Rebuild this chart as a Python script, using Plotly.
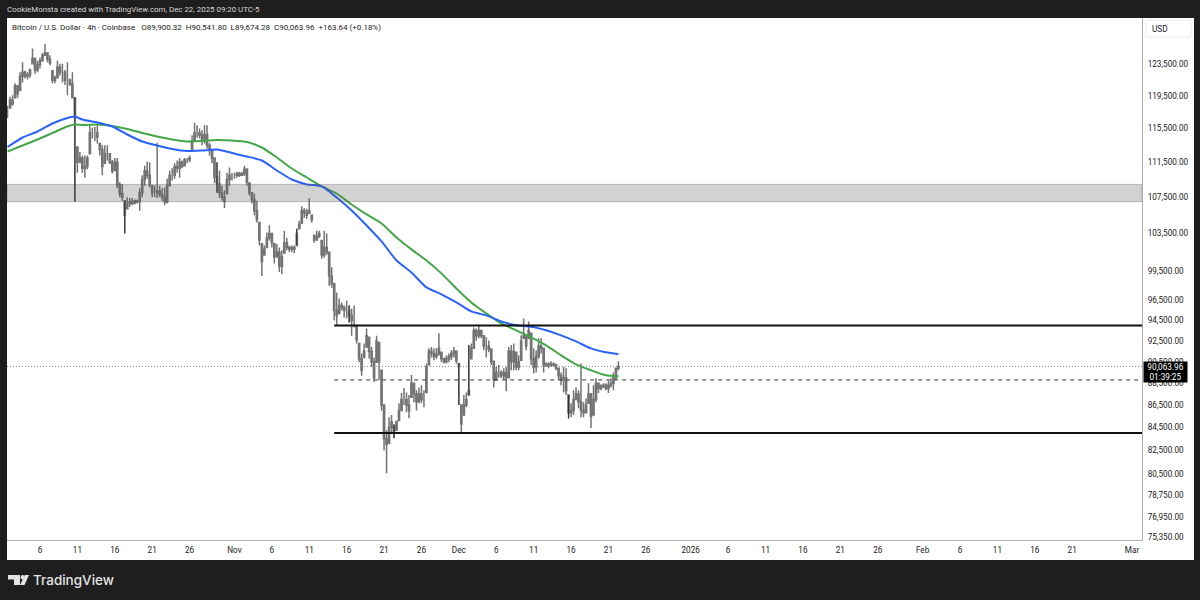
import numpy as np
import pandas as pd
import plotly.graph_objects as go

# 8-hour BTC/USD bars from Oct 1 16:00 through Dec 22 08:00
highs = [118300,119400,119600,121100,120800,122500,123800,122700,122500,123000,125600,124400,124000,
 124400,125000,126200,125000,124700,122700,122100,124000,123600,123600,122800,123800,121700,122500,
 119300,113300,112700,112300,112300,112300,115900,115600,115700,115900,113700,113500,113500,
 113500,112600,111800,112000,112000,109200,109000,107100,107500,107400,107400,107250,107250,108500,
 110000,111100,111600,111500,108800,108800,113800,108800,108500,108600,109600,110550,110800,111400,
 111700,112000,111700,112000,112000,112300,114700,116200,115900,115500,115300,115900,115900,113800,
 113100,112100,111500,110550,108800,108300,110300,110900,110300,110300,110400,110400,110400,111100,
 110800,109100,108000,107900,107100,104700,102400,102200,103600,104400,103500,102400,102400,102000,
 101700,103800,103000,102200,102200,102200,104000,104900,106500,106300,106200,107400,105500,103300,
 103800,103800,102750,103800,103500,101500,99900,98300,97300,96700,96300,96000,96500,96000,95700,
 96000,94000,92250,91300,92250,93700,92850,91900,90900,93000,92350,89700,86500,84250,85400,85600,
 84700,85100,86650,87600,88050,87650,87400,89250,88500,87850,88100,88300,87850,90350,91800,91900,
 91800,91800,93250,91400,90900,91100,91300,91600,91900,91600,90350,86500,87400,87650,92100,92250,
 93800,93700,94100,93530,93050,92850,92550,91800,90650,90000,90200,89700,89900,90000,91900,92100,
 92250,91400,91100,93050,94700,93050,94400,93250,91800,91600,92750,92750,91800,90450,90450,90550,
 90450,90350,89900,89500,90000,89900,87400,86650,87850,88100,87850,90350,86750,87100,88500,87600,
 88300,88950,88500,88400,88500,88500,88750,88950,89500,89900,90541.80]
lows = [116800,118000,118300,119300,119300,120200,121200,121700,121600,121800,123600,122300,122500,
 123000,123900,124700,123800,123400,121100,121100,121800,122100,121200,120900,119600,120800,119300,
 107000,110300,111400,110300,109700,110700,112500,114300,114000,113700,112300,110000,111400,
 111700,111300,110200,110550,108500,107500,107100,103500,106200,106400,106600,106700,106800,106000,
 107500,108800,109600,108600,107500,107500,107400,107500,107100,106600,106800,108800,109400,109600,
 110300,109700,110800,111100,111400,111500,112900,114100,114400,114300,113500,113700,113100,112300,
 111400,109100,108000,107400,107100,106300,107900,108800,109400,109600,109700,109800,109900,109900,
 108800,107700,106800,105500,104700,102200,99000,101200,102000,102750,102000,100300,100900,99400,
 99200,101400,101700,101500,101500,101400,102200,104000,104600,105200,105100,105700,104700,102500,
 102750,103000,100800,100900,101200,98000,97800,94500,94000,95200,95500,94800,94700,94300,93000,
 93800,92250,90450,89200,90900,91900,90800,90000,88600,90450,88800,86000,82500,80550,83100,84000,
 83550,84250,85100,86000,86500,85850,85300,87200,86750,86000,86650,86650,86300,87650,90200,90900,
 90650,90800,91100,90450,90350,90350,90450,90650,90900,90350,86500,84000,85600,86300,87400,90800,
 91800,92550,92750,92750,91600,90900,91400,90200,88100,88800,89000,88950,88800,87750,89000,89700,
 89700,89700,89700,90650,92750,91600,92750,90200,89400,89500,90800,91300,89500,90000,89900,90000,
 90000,89700,88800,88300,87650,87400,85300,85400,85600,86950,86200,85400,85400,85750,86650,84450,
 85600,86750,87600,87850,88050,87850,87600,88100,87850,88800,89674.28]
closes = [118000,119000,118500,120800,119800,122000,122500,122000,122200,122800,124300,122800,123500,
 124000,124700,125000,124200,123700,121500,121800,123200,122500,122500,121500,121500,121000,119300,
 116800,111500,112000,110800,111000,112000,115000,115000,115000,114500,113000,111000,112500,
 112500,111500,110500,111500,108900,107900,107500,105500,106800,107000,106800,107100,107000,108000,
 109500,110500,110000,108900,108000,108000,108200,107800,107500,107000,108800,110000,110000,111000,
 110800,111500,111000,111800,111800,112000,114000,115000,115000,114700,114000,114800,113500,113000,
 112000,109800,109000,108000,107500,107000,109500,110000,110000,110000,110200,110000,110200,110700,
 109200,108000,107200,106000,105000,102800,100500,101800,103000,103500,102500,101000,101500,100000,
 101000,102500,102000,101800,102000,101800,103500,104500,106000,105800,105500,106000,105000,102800,
 103200,103500,101200,102000,101500,99000,98200,95500,95000,96000,95800,95500,95500,95000,94500,
 94500,92600,90800,89700,91500,93000,91500,90500,89000,92500,90500,86500,83500,83000,84500,85000,
 84000,85000,86000,87000,87000,86500,86000,88500,87500,86800,87500,87000,87000,90000,91500,91300,
 91000,91200,91800,90800,90500,90800,91000,91300,91500,90600,90200,84800,86500,87000,87800,91800,
 93500,93000,93500,93000,92000,92000,91700,90500,88800,89500,89500,89200,89500,89000,91500,90500,
 91500,90000,90500,92500,93000,92000,93500,90800,90000,91000,92000,91800,90200,90300,90200,90300,
 90200,89900,89200,88800,89000,87800,85800,86000,87000,87500,86800,86000,85800,86500,87500,85500,
 87000,88500,88000,88200,88300,88000,88300,88500,89000,89900.32,90063.96]

# Bars picked out in a darker tone
dark_bars = [27, 47, 84, 116, 137, 155, 181, 185, 225]

# Moving averages sampled at every sixth bar, plus the Oct 10 turn and the last bar
ma_bars = [0,6,12,18,24,27,30,36,42,48,54,60,66,72,78,84,90,96,102,108,114,120,126,132,138,144,150,
 156,162,168,174,180,186,192,198,204,210,216,222,228,234,240,245]
ma_fast = [113300,114430,115150,116120,116780,116960,116600,116240,115750,114790,113950,113470,113060,
 112820,112880,113000,112590,112180,111710,110550,109510,108950,108720,107470,106020,104370,102640,
 100620,99370,97820,97120,96300,95400,95000,94410,94020,93880,93530,93040,92450,91780,91400,91210]
ma_slow = [112770,113470,114190,114970,115750,115990,115930,115990,115810,115450,114970,114550,114190,
 113950,114010,114130,114070,113890,113240,112060,110780,109740,108720,107920,106680,105580,104590,
 103070,101790,100620,99270,97720,96300,95200,94210,93530,92850,92070,91110,90260,89700,89230,89140]

# Horizontal levels drawn on the chart
zone_low, zone_high = 107000, 108950
range_high, range_low, range_mid = 94000, 84000, 88800
last_price = 90063.96
level_start = "2025-11-14 08:00"

# Axis ticks
price_ticks = [123500,119500,115500,111500,107500,103500,99500,96500,94500,92500,90500,88500,86500,
 84500,82500,80500,78750,76950,75350]
time_ticks = ["2025-10-06","2025-10-11","2025-10-16","2025-10-21","2025-10-26","2025-11-01","2025-11-06",
 "2025-11-11","2025-11-16","2025-11-21","2025-11-26","2025-12-01","2025-12-06","2025-12-11","2025-12-16",
 "2025-12-21","2025-12-26","2026-01-01","2026-01-06","2026-01-11","2026-01-16","2026-01-21","2026-01-26",
 "2026-02-01","2026-02-06","2026-02-11","2026-02-16","2026-02-21","2026-03-01"]
time_labels = ["6","11","16","21","26","Nov","6","11","16","21","26","Dec","6","11","16","21","26","2026",
 "6","11","16","21","26","Feb","6","11","16","21","Mar"]

view_start, view_end = "2025-10-01 14:10", "2026-03-02 08:00"
bar_times = pd.date_range("2025-10-01 16:00", periods=len(highs), freq="8h")

# Each bar opens at the previous close, held inside its own high-low span
prev_close = np.r_[closes[0], closes[:-1]]
opens = np.clip(prev_close, lows, highs)

GREY = "#737373"
DARK = "#2c2c2c"
FONT = "Roboto"
W, H = 1200, 600
L, R, T, B = 7, 1142, 18, 540


def fx(px):
    return (px - L) / (R - L)


def fy(px):
    return (B - px) / (B - T)


fig = go.Figure()
fig.add_trace(go.Candlestick(
    x=bar_times, open=opens, high=highs, low=lows, close=closes,
    increasing=dict(line=dict(color=GREY, width=1.5), fillcolor=GREY),
    decreasing=dict(line=dict(color=GREY, width=1.5), fillcolor=GREY),
    whiskerwidth=0, hoverinfo="skip", showlegend=False))

# Dark bars are thin high-low strokes over the candles
dark_x, dark_y = [], []
for i in dark_bars:
    dark_x += [bar_times[i], bar_times[i], None]
    dark_y += [highs[i], lows[i], None]
fig.add_trace(go.Scatter(x=dark_x, y=dark_y, mode="lines", connectgaps=False, hoverinfo="skip",
                         showlegend=False, line=dict(color=DARK, width=1)))

ma_times = bar_times[ma_bars]
fig.add_trace(go.Scatter(x=ma_times, y=ma_slow, mode="lines", hoverinfo="skip", showlegend=False,
                         line=dict(color="#43a748", width=2, shape="spline", smoothing=0.6)))
fig.add_trace(go.Scatter(x=ma_times, y=ma_fast, mode="lines", hoverinfo="skip", showlegend=False,
                         line=dict(color="#2962ff", width=2, shape="spline", smoothing=0.6)))

# Supply zone across the whole view
fig.add_trace(go.Scatter(x=[view_start, view_end, view_end, view_start, view_start],
                         y=[zone_low, zone_low, zone_high, zone_high, zone_low],
                         mode="lines", fill="toself", fillcolor="rgba(90,90,90,0.27)",
                         line=dict(color="rgba(90,90,90,0.35)", width=1),
                         hoverinfo="skip", showlegend=False))

# Range boundaries, mid level and last price
for level, colour, width, dash, start in [
    (range_high, "#111111", 2, "solid", level_start),
    (range_low, "#111111", 2, "solid", level_start),
    (range_mid, "#3a3a3a", 1, "4px,4px", level_start),
    (last_price, "#808080", 1, "1px,2px", view_start),
]:
    fig.add_trace(go.Scatter(x=[start, view_end], y=[level, level], mode="lines",
                             line=dict(color=colour, width=width, dash=dash),
                             hoverinfo="skip", showlegend=False))

shapes = [
    dict(type="rect", xref="paper", yref="paper", x0=fx(R), x1=fx(1194), y0=fy(T), y1=fy(560),
         fillcolor="white", line_width=0, layer="below"),
    dict(type="rect", xref="paper", yref="paper", x0=fx(L), x1=fx(1194), y0=fy(B), y1=fy(560),
         fillcolor="white", line_width=0, layer="below"),
    dict(type="rect", xref="paper", yref="paper", x0=fx(1146), x1=fx(1191), y0=fy(20), y1=fy(37),
         fillcolor="white", line=dict(color="#ececec", width=1), layer="below"),
]


def path(points):
    return "M" + " L".join(f"{fx(a):.5f},{fy(b):.5f}" for a, b in points) + " Z"


# TradingView mark in the footer
LOGO = "#e3e3e3"
shapes += [
    dict(type="path", xref="paper", yref="paper", fillcolor=LOGO, line_width=0,
         path=path([(8, 575), (20, 575), (20, 585), (14, 585), (14, 579.5), (8, 579.5)])),
    dict(type="circle", xref="paper", yref="paper", fillcolor=LOGO, line_width=0,
         x0=fx(20.5), x1=fx(25), y0=fy(575), y1=fy(579.5)),
    dict(type="path", xref="paper", yref="paper", fillcolor=LOGO, line_width=0,
         path=path([(25, 575), (29, 575), (24.5, 585), (20, 585)])),
]

annotations = [
    dict(text="CookieMonsta created with TradingView.com, Dec 22, 2025 09:20 UTC-5", xref="paper", yref="paper",
         x=fx(5), y=fy(9.5), xanchor="left", yanchor="middle", showarrow=False,
         font=dict(family=FONT, size=7.9, color="#d8d8d8")),
    dict(text="Bitcoin / U.S. Dollar · 4h · Coinbase   O89,900.32  H90,541.80  L89,674.28  C90,063.96  +163.64 (+0.18%)",
         xref="paper", yref="paper", x=fx(10), y=fy(27), xanchor="left", yanchor="middle", showarrow=False,
         font=dict(family=FONT, size=8, color="#222222")),
    dict(text="USD", xref="paper", yref="paper", x=fx(1150), y=fy(29), xanchor="left", yanchor="middle",
         showarrow=False, font=dict(family=FONT, size=8.2, color="#222222")),
    dict(text="90,063.96<br>01:39:25", xref="paper", yref="paper", x=fx(1143), y=fy(361), xanchor="left", yanchor="top",
         showarrow=False, align="center", width=43, height=20, bgcolor="#000000", borderpad=0,
         font=dict(family=FONT, size=8.2, color="#ffffff")),
    dict(text="TradingView", xref="paper", yref="paper", x=fx(31), y=fy(580), xanchor="left", yanchor="middle",
         showarrow=False, font=dict(family="Inter", size=13.5, weight=500, color=LOGO)),
]

fig.update_layout(
    width=W, height=H,
    margin=dict(l=L, r=W - R, t=T, b=H - B, autoexpand=False),
    paper_bgcolor="#1e1e1e", plot_bgcolor="white",
    font=dict(family=FONT, size=8.2, color="#222222"),
    shapes=shapes, annotations=annotations, showlegend=False,
    xaxis=dict(type="date", range=[view_start, view_end], rangeslider=dict(visible=False),
               tickmode="array", tickvals=time_ticks, ticktext=time_labels, tickangle=0,
               showgrid=False, zeroline=False, ticks="", showline=True, linecolor="#b0b0b0", linewidth=1,
               ticklabelstandoff=2, tickfont=dict(family=FONT, size=8.2, color="#222222")),
    yaxis=dict(type="log", side="right", range=[4.87570, 5.11282], tickmode="array",
               tickvals=price_ticks, ticktext=[f"{v:,.2f}" for v in price_ticks],
               showgrid=False, zeroline=False, ticks="", showline=True, linecolor="#b0b0b0", linewidth=1,
               ticklabelstandoff=3, tickfont=dict(family=FONT, size=8.2, color="#222222")),
)

fig.write_html("out.html", config=dict(displayModeBar=False))
